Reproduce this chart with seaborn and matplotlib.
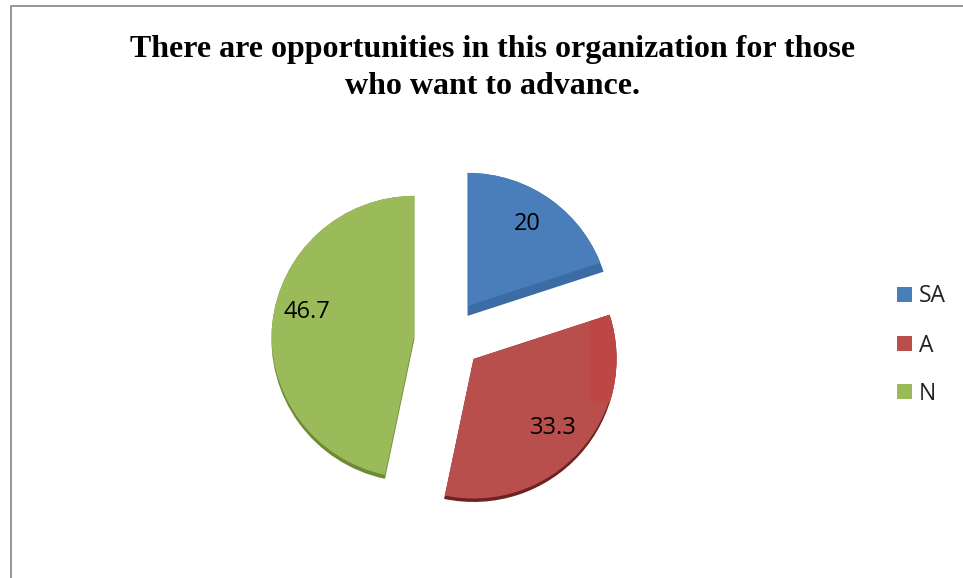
import matplotlib
matplotlib.use("Agg")
import matplotlib.pyplot as plt
import seaborn as sns
from matplotlib.patches import Rectangle

labels = ["SA", "A", "N"]
values = [20, 33.3, 46.7]
colors = ["#4a7ebb", "#b84f4d", "#9bba59"]
side_colors = ["#3c6ca6", "#6e2220", "#6f8a35"]
title_lines = ["There are opportunities in this organization for those", "who want to advance."]

sns.set_theme(style="white")
W, H = 963, 578
fig = plt.figure(figsize=(W/100, H/100), dpi=100, facecolor="white")

bg = fig.add_axes([0, 0, 1, 1]); bg.set_xlim(0, W); bg.set_ylim(H, 0); bg.axis("off")
bg.plot([10.5, 10.5, 963], [578, 6, 6], color="#8f8f8f", lw=1.3)

PX = 143.0                 # pixels per radius
CX, CY = 451.0, 338.7      # pie centre in pixels
LIM = 1.27
ax = fig.add_axes([(CX-LIM*PX)/W, 1-(CY+LIM*PX)/H, 2*LIM*PX/W, 2*LIM*PX/H])
explode = [0.197, 0.212, 0.257]
depth = [10/PX, 3.5/PX, 4/PX]
nudge = [0, 0, -4/PX]

wp = dict(linewidth=0)
under, _ = ax.pie(values, colors=side_colors, startangle=90, counterclock=False, explode=explode, wedgeprops=wp)
faces, _ = ax.pie(values, colors=colors, startangle=90, counterclock=False, explode=explode, wedgeprops=wp)
ax.set_xlim(-LIM, LIM); ax.set_ylim(-LIM, LIM)
for u, f, d, n in zip(under, faces, depth, nudge):
    cx, cy = u.center
    u.set_center((cx, cy + n))
    f.set_center((cx, cy + n + d))
    f.set_clip_on(True)
    f.set_clip_path(u)

# lighter band on the right of the red slice
band = Rectangle((0.97, -0.45), 0.35, 0.8, color="#bc4744", lw=0, zorder=under[1].get_zorder() + 1)
ax.add_patch(band)
band.set_clip_path(under[1])

for line, y in zip(title_lines, [49, 86]):
    fig.text(492.5/W, 1-y/H, line, ha="center", va="center", family="Liberation Serif",
             weight="bold", fontsize=23, color="black")

for v, (x, y) in zip(values, [(527, 224), (553, 428), (307, 312)]):
    fig.text(x/W, 1-y/H, f"{v:g}", ha="center", va="center", family="Open Sans", fontsize=17, color="black")

for lab, c, y in zip(labels, colors, [294.5, 343.5, 391.5]):
    bg.add_patch(Rectangle((897, y-7.5), 15, 15, color=c, lw=0))
    bg.text(919, y + 2, lab, ha="left", va="center", family="Open Sans", fontsize=16.5, color="#222222")

fig.savefig("out.png", dpi=100)
